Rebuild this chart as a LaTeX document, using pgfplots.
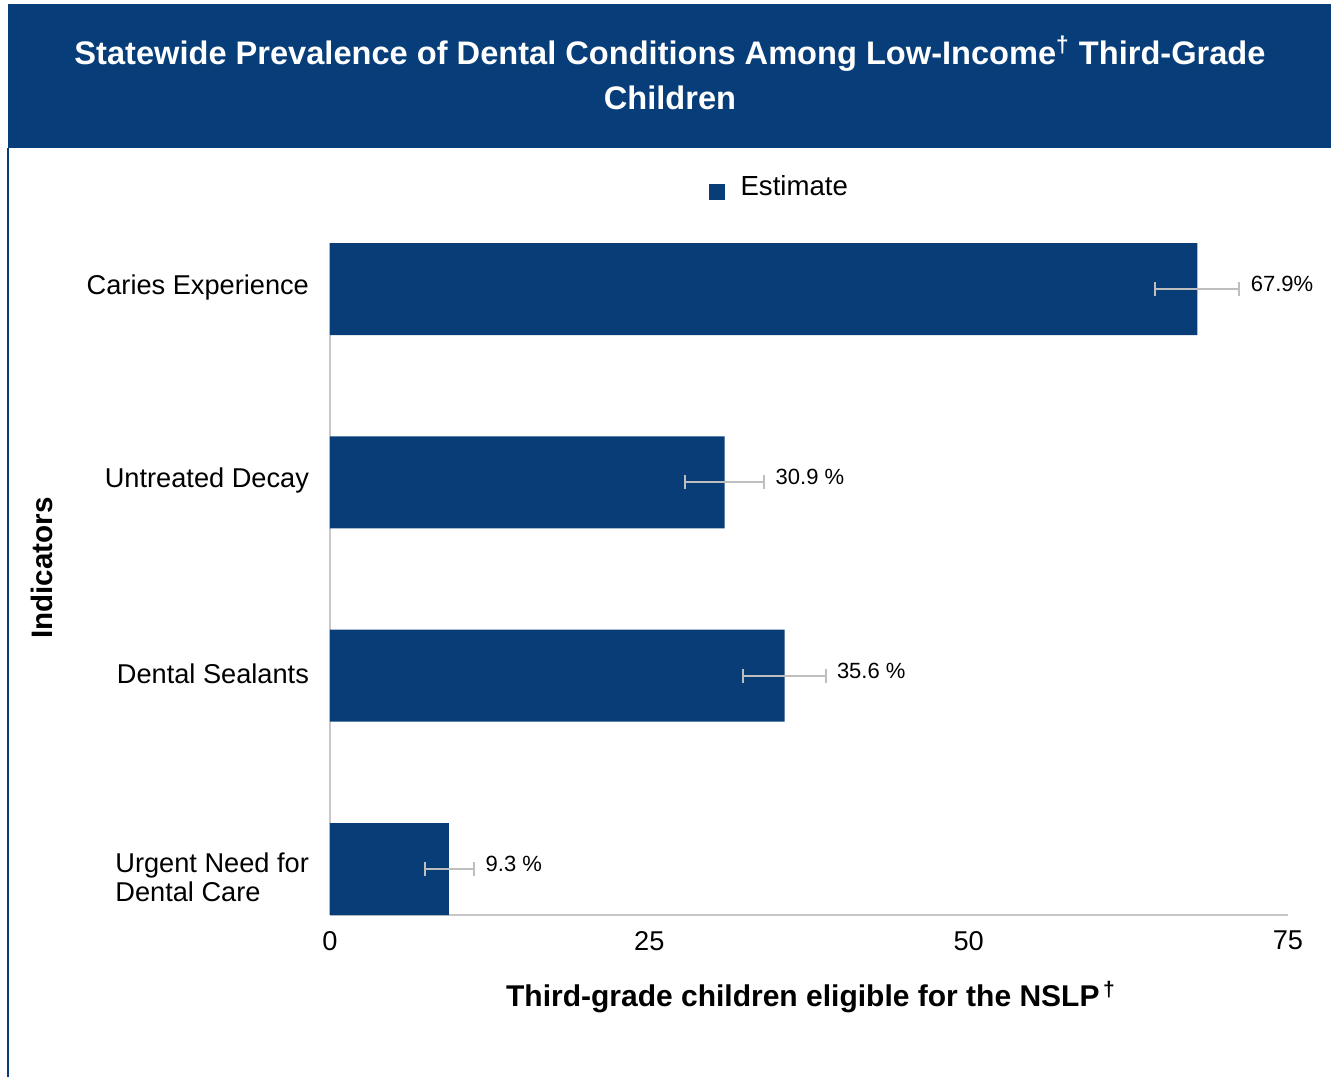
\documentclass[border=0pt]{standalone}
\usepackage{pgfplots}
\pgfplotsset{compat=1.18}
\usepackage{pgfplotstable}
\usepackage{fontspec}
\setmainfont{Liberation Sans}
\definecolor{barblue}{RGB}{8,61,120}
\definecolor{banner}{RGB}{7,62,121}
\definecolor{errgray}{RGB}{190,190,190}
\definecolor{axgray}{RGB}{200,200,200}
\pgfplotstableread[col sep=comma]{
pos,val,em,ep,hi,lab
3,67.9,3.3,3.3,71.2,67.9\%
2,30.9,3.1,3.1,34.0,30.9 \%
1,35.6,3.3,3.2,38.8,35.6 \%
0,9.3,1.9,2.0,11.3,9.3 \%
}\datatable
\begin{document}
\begin{tikzpicture}
\begin{axis}[
  scale only axis, width=479pt, height=336pt,
  xmin=0, xmax=75, ymin=-0.238, ymax=3.238,
  xtick={0,25,50,75}, ytick={0,1,2,3},
  yticklabels={{\rule{0pt}{19.5pt}Urgent Need for\\Dental Care},Dental Sealants,Untreated Decay,Caries Experience},
  axis x line*=bottom, axis y line*=left,
  axis line style={draw=axgray, line width=1pt, -},
  major tick length=0pt,
  /pgf/number format/assume math mode=true,
  tick label style={font=\fontsize{13.6}{14.5}\selectfont, text=black},
  yticklabel style={align=left, xshift=-7pt, yshift=0.8pt},
  xticklabel style={yshift=-4.5pt},
  xlabel={\textbf{Third-grade children eligible for the NSLP}\textsuperscript{\,\textbf{†}}},
  xlabel style={at={(axis description cs:0.502,-0.122)}, anchor=center, font=\fontsize{15}{16}\selectfont},
  ylabel={Indicators},
  ylabel style={at={(axis description cs:-0.3006,0.516)}, anchor=center, font=\fontsize{14.8}{16}\selectfont\bfseries},
  legend style={at={(axis description cs:0.470,1.083)}, anchor=center, draw=none, fill=none,
    font=\fontsize{13.8}{15}\selectfont, legend cell align=left},
  legend image code/.code={\fill[barblue] (-2pt,-6.5pt) rectangle (6pt,1.5pt);},
  clip=false,
]
% frame, banner and title (positions relative to the axis box's lower left corner)
\path ([xshift=-165pt,yshift=457.5pt]rel axis cs:0,0) rectangle ([xshift=500.5pt,yshift=-81pt]rel axis cs:0,0);
\fill[banner] ([xshift=-161pt,yshift=455.5pt]rel axis cs:0,0) rectangle ([xshift=500.5pt,yshift=383.5pt]rel axis cs:0,0);
\draw[banner, line width=1pt] ([xshift=-161pt,yshift=383.5pt]rel axis cs:0,0) -- ([xshift=-161pt,yshift=-81pt]rel axis cs:0,0);
\node[align=center, text=white, font=\fontsize{16.3}{22.5}\selectfont\bfseries]
  at ([xshift=170pt,yshift=421pt]rel axis cs:0,0)
  {Statewide Prevalence of Dental Conditions Among Low-Income\textsuperscript{†} Third-Grade\\Children};
\addplot[xbar, bar width=46pt, fill=barblue, draw=none,
  error bars/.cd, x dir=both, x explicit, error mark=|,
  error bar style={line width=1pt, draw=errgray},
  error mark options={line width=1pt, draw=errgray, mark size=3.5pt}]
  table[x=val, y=pos, x error plus=ep, x error minus=em] {\datatable};
\addlegendentry{\hspace{6pt}Estimate}
\addplot[forget plot, draw=none, mark=none, nodes near coords, point meta=explicit symbolic,
  nodes near coords style={anchor=west, inner sep=0pt, xshift=5.5pt, yshift=2.5pt,
  font=\fontsize{11}{12}\selectfont, text=black}]
  table[x=hi, y=pos, meta=lab] {\datatable};
\end{axis}
\end{tikzpicture}
\end{document}
